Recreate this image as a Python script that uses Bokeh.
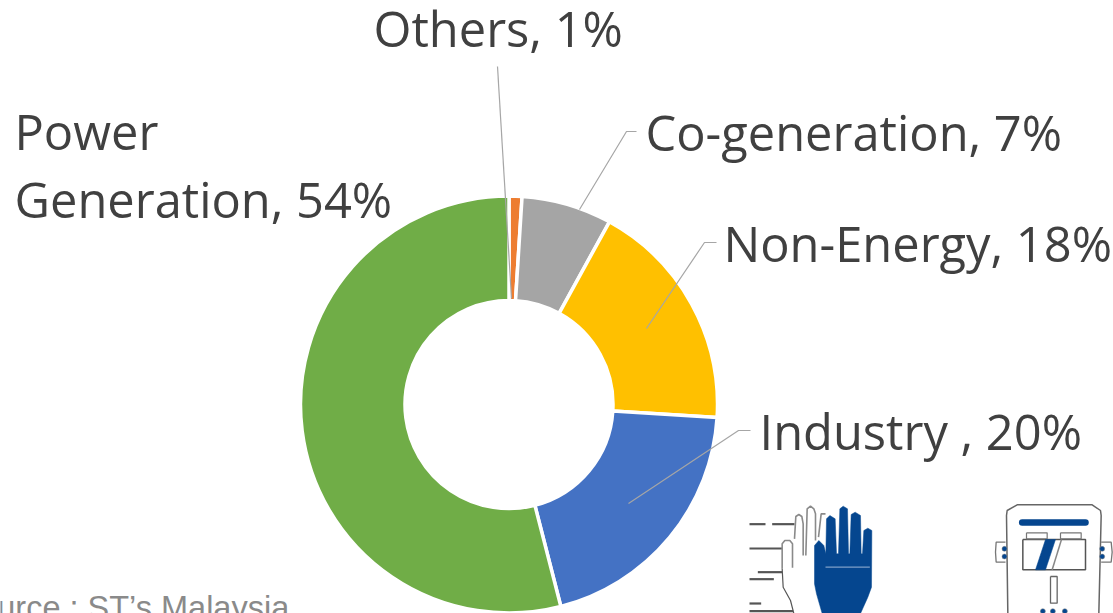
from bokeh.plotting import figure
from bokeh.models import ColumnDataSource
from bokeh.core.properties import value
from bokeh.embed import file_html
from bokeh.resources import INLINE
import math

categories = ["Others", "Co-generation", "Non-Energy", "Industry", "Power Generation"]
shares = [1, 7, 18, 20, 54]
colors = ["#ED7D31", "#A5A5A5", "#FFC000", "#4472C4", "#70AD47"]
label_texts = ["Others, 1%", "Co-generation, 7%", "Non-Energy, 18%", "Industry , 20%", "Power", "Generation, 54%"]
label_x = [373, 645, 723, 759, 14, 14]
label_y = [27, 131, 242, 430, 130, 198]
leader_xs = [[497, 511], [636, 626, 579], [716, 704, 646], [750, 738, 628]]
leader_ys = [[66, 298], [131, 131, 209], [242, 242, 328], [430, 430, 503]]

W, H = 1113, 613
CX, CY, R_OUT, R_IN = 508.5, 404, 208.5, 104

p = figure(width=W, height=H, x_range=(0, W), y_range=(H, 0), output_backend="svg",
           toolbar_location=None, min_border=0, outline_line_color=None)
p.xaxis.visible = False
p.yaxis.visible = False
p.grid.visible = False

total = sum(shares)
cum, starts, ends = 0, [], []
for v in shares:
    starts.append(math.pi / 2 - 2 * math.pi * cum / total)
    cum += v
    ends.append(math.pi / 2 - 2 * math.pi * cum / total)
src = ColumnDataSource(dict(cat=categories, s=starts, e=ends, c=colors))
p.annular_wedge(x=CX, y=CY, inner_radius=R_IN, outer_radius=R_OUT, start_angle="s", end_angle="e",
                direction="clock", color="c", line_color="white", line_width=3.5, source=src)

p.multi_line(leader_xs, leader_ys, line_color="#A6A6A6", line_width=1.2)
p.text(label_x, label_y, text=label_texts, text_font=value("Open Sans"), text_font_size="48.8px",
       text_color="#404040", text_baseline="alphabetic")
p.text([-43], [607], text=["Source : ST\u2019s Malaysia"], text_font=value("Liberation Sans"),
       text_font_size="32.5px", text_color="#8A8A8A", text_baseline="alphabetic")

# icons (decoration), traced in a 3x crop whose origin is (730, 490)
def zx(v): return [730 + a / 3 for a in v]
def zy(v): return [490 + a / 3 for a in v]
BLUE, DARK = "#05468F", "#555555"

def line(xs, ys, color=DARK, w=1.5, cap="butt"):
    p.line(zx(xs), zy(ys), line_color=color, line_width=w, line_cap=cap)

def poly(xs, ys, color=BLUE):
    p.patch(zx(xs), zy(ys), fill_color=color, line_color=color, line_width=0.5)

for xs, ys in [([57, 105], [101, 101]), ([125, 192], [101, 101]), ([57, 155], [174, 174]),
               ([82, 155], [245, 245]), ([57, 130], [266, 266]), ([57, 92], [339, 339]),
               ([57, 188], [362, 362])]:
    line(xs, ys, DARK, 2.2)
line([155, 155, 163, 178, 186, 186], [235, 160, 150, 150, 160, 232], "#8A8A8A", 1.6)
line([155, 158, 180, 190], [235, 290, 330, 369], DARK, 1.2)
line([192, 196, 205, 214, 218, 218], [145, 78, 72, 78, 100, 195], "#8A8A8A", 1.6)
line([226, 230, 240, 250, 255, 255], [195, 55, 47, 55, 70, 150], "#8A8A8A", 1.6)
line([264, 272, 285], [140, 70, 70], "#8A8A8A", 1.6)
poly([275, 258, 252, 252, 265, 280, 286, 288, 298, 314, 318, 324, 328, 338, 351, 354, 358, 362, 374, 390, 392,
      396, 400, 412, 424, 423, 412, 390],
     [369, 310, 280, 165, 150, 165, 190, 85, 75, 85, 190, 190, 55, 47, 55, 190, 190, 72, 65, 75, 190,
      190, 120, 113, 120, 290, 320, 369])
line([285, 418], [230, 230], "#7F9FC8", 1.2)

line([832, 828, 830, 860, 1085, 1110, 1112, 1105], [369, 75, 60, 43, 43, 60, 75, 369], "#666666", 1.5)
line([875, 1065], [96, 96], BLUE, 6.5, "round")
line([877, 1065, 1065, 877, 877], [147, 147, 238, 238, 147], DARK, 1.5)
line([888, 950, 950, 888, 888], [127, 127, 145, 145, 127], "#777777", 1.2)
line([990, 1052, 1052, 990, 990], [127, 127, 145, 145, 127], "#777777", 1.2)
poly([945, 975, 945, 915], [147, 147, 238, 238])
line([993, 965], [147, 238], "#888888", 1.5)
line([960, 980, 980, 960, 960], [258, 258, 338, 338, 258], "#666666", 1.3)
p.scatter(zx([937, 967, 1003, 822, 822, 1115, 1115]), zy([362, 362, 362, 175, 198, 175, 198]),
          size=5, fill_color=BLUE, line_color="#888888", line_width=0.5)
line([825, 797, 795, 797, 825], [155, 155, 185, 215, 215], "#777777", 1.3)
line([1112, 1142, 1145, 1142, 1112], [155, 155, 185, 215, 215], "#777777", 1.3)

html = file_html(p, INLINE).replace("</head>", "<style>html,body{margin:0;padding:0;overflow:hidden}</style></head>", 1)
open("out.html", "w").write(html)
